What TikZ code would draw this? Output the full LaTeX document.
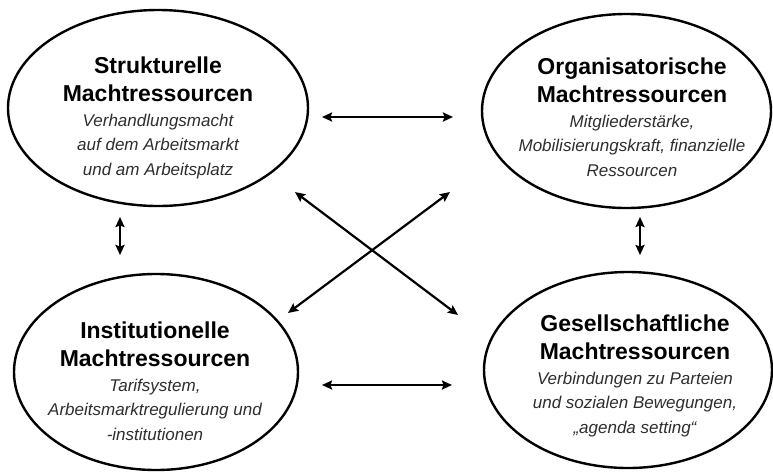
\documentclass[tikz,border=0pt]{standalone}
\usepackage{fontspec}
\setmainfont{Liberation Sans}
\usetikzlibrary{shapes.geometric,arrows.meta}
\tikzset{
  ell/.style={ellipse, draw=black, line width=2.4pt, inner sep=0pt},
  txt/.style={anchor=north, inner sep=0pt, align=center, font=\fontsize{17}{24.7}\selectfont},
  conn/.style={line width=2.2pt, {Stealth[length=10pt,width=9pt,inset=1.5pt]}-{Stealth[length=10pt,width=9pt,inset=1.5pt]}}
}
\newcommand{\tfnt}{\bfseries\fontsize{23}{24.7}\selectfont}
\newcommand{\sfnt}{\itshape\color{black!82}}
\begin{document}
\begin{tikzpicture}[x=1pt,y=-1pt]
\useasboundingbox[fill=white] (0,0) rectangle (773,472);
% ellipses
\node[ell, minimum width=300pt, minimum height=196pt] (tl) at (158,108) {};
\node[ell, minimum width=289pt, minimum height=194pt] (tr) at (626.5,111) {};
\node[ell, minimum width=284pt, minimum height=196pt] (bl) at (156,372) {};
\node[ell, minimum width=288pt, minimum height=196pt] (br) at (628,370) {};
% texts
\node[txt] (tltext) at (158,56) {\rule{0pt}{17pt}{\tfnt Strukturelle}\\[3.5pt]{\tfnt Machtressourcen}\\{\sfnt Verhandlungsmacht}\\{\sfnt auf dem Arbeitsmarkt}\\{\sfnt und am Arbeitsplatz}};
\node[txt] (trtext) at (632,57) {\rule{0pt}{17pt}{\tfnt Organisatorische}\\[3.5pt]{\tfnt Machtressourcen}\\{\sfnt Mitgliederstärke,}\\{\sfnt Mobilisierungskraft, finanzielle}\\{\sfnt Ressourcen}};
\node[txt] (bltext) at (155,321) {\rule{0pt}{17pt}{\tfnt Institutionelle}\\[3.5pt]{\tfnt Machtressourcen}\\{\sfnt Tarifsystem,}\\{\sfnt Arbeitsmarktregulierung und}\\{\sfnt -institutionen}};
\node[txt] (brtext) at (635,314) {\rule{0pt}{17pt}{\tfnt Gesellschaftliche}\\[3.5pt]{\tfnt Machtressourcen}\\{\sfnt Verbindungen zu Parteien}\\{\sfnt und sozialen Bewegungen,}\\{\sfnt „agenda setting“}};
% arrow end points
\coordinate (h1a) at (322,117);
\coordinate (h1b) at (453,117);
\coordinate (h2a) at (322,385);
\coordinate (h2b) at (452,385);
\coordinate (v1a) at (120,217);
\coordinate (v1b) at (120,255);
\coordinate (v2a) at (640,217);
\coordinate (v2b) at (640,255);
\coordinate (d1a) at (295,192);
\coordinate (d1b) at (458,315);
\coordinate (d2a) at (450,192);
\coordinate (d2b) at (288,313);
\draw[conn] (h1a) -- (h1b);
\draw[conn] (h2a) -- (h2b);
\draw[conn] (v1a) -- (v1b);
\draw[conn] (v2a) -- (v2b);
\draw[conn] (d1a) -- (d1b);
\draw[conn] (d2a) -- (d2b);
\end{tikzpicture}
\end{document}
